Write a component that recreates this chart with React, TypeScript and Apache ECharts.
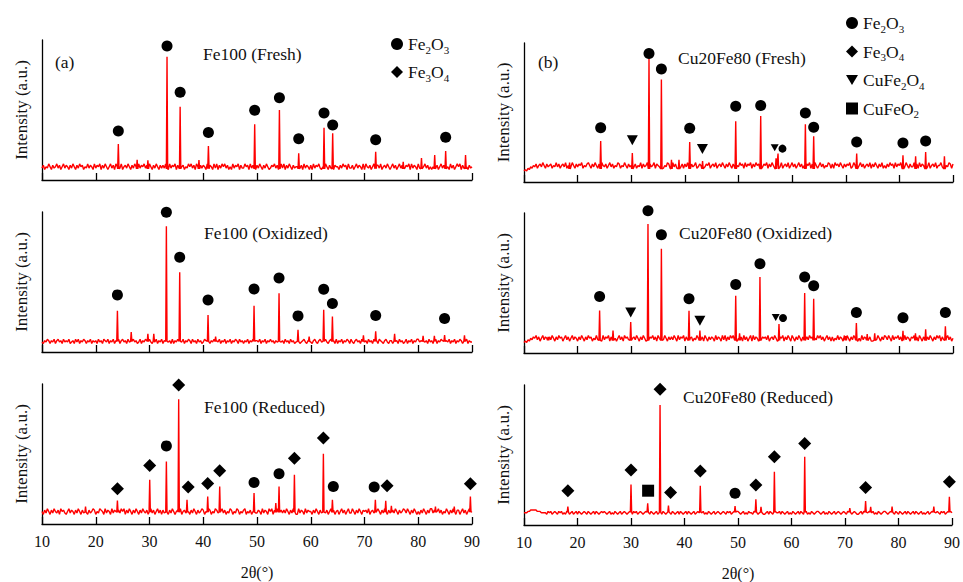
import React, { useEffect, useRef } from 'react';
import * as echarts from 'echarts';

const FONT = 'Liberation Serif';
const TXT = '#111';

// 2θ axis
const THETA_MIN = 10;
const THETA_MAX = 90;
const THETA_STEP = 10;
const NOISE_STEP = 0.25;
const NOISE_UNIT = 1.0;

// ---------- Fe100 (Fresh) ----------
const fe100FreshPeaks = [
  [24.2, 25.7], [27.7, 14.5], [29.7, 14], [33.26, 88], [35.7, 52.4], [39.2, 14.3], [40.96, 24.3],
  [49.57, 39.8], [54.17, 50], [57.76, 19], [62.47, 37.4], [64.08, 33.3], [72.08, 20.2], [77.2, 13],
  [80.6, 15.7], [83.06, 17.9], [85.1, 20.7], [88.8, 17.9],
];
const fe100FreshNoise =
  '2413253142 3524135243 1425314253 4132524315 2435142531 3524153425 1342531425 3152435241 ' +
  '5314253142 4253152435 1425341325 3524153142 4315243152 5142535241 3152435142 2534152431 ' +
  '4253142531 2435241352 5142531423 3524152431 4152435213 2531425143 3142534152 2413524315 ' +
  '1532413524 4251342531 3524135241 2435152431 5241352413 1352413524 4231524135 3514253142 3';
const fe100FreshHematite = [
  [24.2, 35], [33.26, 95.7], [35.7, 62.6], [40.96, 34], [49.57, 49.8], [54.17, 58.8], [57.76, 29.5],
  [62.47, 47.9], [64.08, 39.3], [72.08, 28.8], [85.1, 30.5],
];

// ---------- Fe100 (Oxidized) ----------
const fe100OxPeaks = [
  [24.03, 29.4], [26.6, 14.2], [29.7, 13], [30.8, 13], [33.14, 89.8], [35.62, 56.9], [40.89, 26.5],
  [42.3, 11], [49.45, 33.1], [54.1, 42], [57.63, 15.9], [59.7, 11], [62.41, 30.1], [64.03, 25.3],
  [69.8, 12], [72.08, 14.7], [75.6, 13], [80.9, 11.5], [83, 11.5], [84.9, 12.1], [88.6, 12],
];
const fe100OxNoise =
  '1021320213 0231203121 3012031302 1320213021 2031203213 0213021302 3120312031 2013021320 ' +
  '3102130213 0213120302 1302130213 2031203120 1321302130 2130213021 3021320312 0213021302 ' +
  '2130213021 3120213012 0312031201 2301231023 1023102310 2310231203 0213021320 3102312031 ' +
  '1203120312 0321023102 2031203120 1302130213 3120312031 2013021320 0213021302 1320213021 1';
const fe100OxHematite = [
  [24.03, 40.8], [33.14, 99.8], [35.62, 67.6], [40.89, 37.2], [49.45, 45], [54.1, 52.8], [57.63, 25.8],
  [62.41, 44.8], [64.03, 34.6], [72.08, 26], [84.9, 23.9],
];

// ---------- Fe100 (Reduced) ----------
const fe100RedPeaks = [
  [18.1, 12.4], [24.03, 16.8], [30.04, 31.6], [33.14, 44.6], [35.43, 89.1], [36.98, 17.3], [40.83, 19.7],
  [43.06, 26.8], [49.45, 22.1], [53.5, 15], [54.1, 26.8], [56.96, 35.1], [62.35, 50.1], [64.03, 17.3],
  [72.02, 17.3], [73.95, 16.6], [75, 13], [83.2, 12.5], [86.7, 12.5], [89.7, 19.7],
];
const fe100RedNoise =
  '2031420314 2130423102 4132031420 3142031243 0214320413 2041320314 2403142031 4203142130 ' +
  '2413024130 3142031420 2314023142 0314203124 3021430214 3102413021 4302143021 3402130241 ' +
  '1320413204 2403142031 3142031420 0413204132 2031420314 4130241302 3024130241 1420314203 ' +
  '2314023142 4203142031 0314203124 3142031420 2031420314 4130241302 1420314203 3024130241 2';
const fe100RedMagnetite = [
  [24.03, 25.2], [30.04, 41.8], [35.43, 99.3], [37.2, 26.4], [40.83, 28.9], [43.06, 38], [56.96, 47],
  [62.35, 61.5], [74.2, 27.3], [89.7, 28.7],
];
const fe100RedHematite = [[33.14, 55.8], [49.45, 29.7], [54.1, 35.9], [64.2, 26.8], [71.8, 26.4]];

// ---------- Cu20Fe80 (Fresh) ----------
const cuFreshPeaks = [
  [18.5, 14], [24.3, 29.5], [30.2, 20.9], [33.31, 88.8], [35.62, 73.7], [37.5, 16], [38.9, 16], [40.9, 28.8],
  [43.3, 15], [49.48, 43.7], [54.14, 47.5], [57.0, 17], [57.37, 20.4], [62.47, 41.5], [64.02, 32.9],
  [72.04, 20.4], [80.67, 19.2], [83.03, 18.5], [84.9, 21.6], [88.4, 18.5],
];
const cuFreshNoise =
  '0102132435 2453642534 5243635245 3624536425 3546243564 2536425364 3524635243 6524364253 ' +
  '4635243625 3462534625 4365243652 4635246352 5364253462 3546235462 4536245364 2536425364 ' +
  '3645263546 2536452635 4625364253 5362453624 6352463524 3546253642 4635243652 5264536425 ' +
  '3546236452 4635245362 5364253624 2536452635 4625364253 3645263546 5362453624 4635243652 5';
const cuFreshHematite = [
  [24.3, 39.1], [33.31, 92.4], [35.62, 81.3], [40.9, 38.6], [49.48, 54.5], [54.14, 55], [62.47, 49.6],
  [64.02, 39.4], [72.04, 28.8], [80.67, 28.1], [84.9, 29.5],
];
const cuFreshHematiteMinor = [[58.2, 24]];
const cuFreshFerrite = [[30.2, 30], [43.27, 23.7]];
const cuFreshFerriteMinor = [[56.75, 24.7]];

// ---------- Cu20Fe80 (Oxidized) ----------
const cuOxPeaks = [
  [14.5, 11.5], [24.1, 30.4], [26.6, 16], [29.9, 22.1], [33.12, 92.1], [35.62, 74.5], [40.77, 30.2],
  [42.8, 16], [49.48, 40.9], [50.2, 14], [54.0, 54.3], [57.55, 20.7], [62.34, 42.9], [64.02, 38.8],
  [70, 12], [71.98, 21.4], [74.0, 13.5], [75.4, 14], [80.67, 15.9], [83, 14], [84.9, 17], [88.58, 19],
];
const cuOxNoise =
  '0102132435 2413524314 2531425341 3524135243 1425314253 4132524315 2435142531 3524153425 ' +
  '1342531425 3152435241 5314253142 4253152435 1425341325 3524153142 4315243152 5142535241 ' +
  '3241524135 1524315243 4251342531 2435142531 5314253142 1425341325 3524135241 4132524315 ' +
  '2531425341 3152435241 1342531425 4253152435 2413524314 3524153142 1425314253 5142535241 3';
const cuOxHematite = [
  [24.1, 40.4], [33.12, 101.6], [35.62, 84.5], [40.77, 38.8], [49.48, 49], [54.0, 63.8], [62.34, 54.3],
  [64.02, 48.1], [71.98, 29], [80.67, 25.2], [88.58, 29],
];
const cuOxHematiteMinor = [[58.3, 25]];
const cuOxFerrite = [[29.9, 29], [42.8, 23]];
const cuOxFerriteMinor = [[56.94, 25.4]];

// ---------- Cu20Fe80 (Reduced) ----------
const cuRedPeaks = [
  [18.2, 13.1], [30.0, 29], [33.12, 15.5], [35.43, 85.7], [37.0, 13.8], [42.95, 28.1], [49.45, 13.6],
  [53.34, 18.3], [54.3, 13], [56.8, 38.1], [62.47, 48.8], [70.9, 12], [73.85, 17.1], [74.8, 13],
  [78.8, 13.1], [86.6, 13.1], [89.51, 20.2],
];
const cuRedNoise =
  '1112233333 2221111021 2012102120 1021012012 0210121021 0120210121 2101201021 0120121012 ' +
  '1021201210 1201021012 0120210121 0210120210 1202101201 2101201021 0120121012 1021201212 ' +
  '2101201021 1021201210 0120210121 1202101201 0210120210 1201021012 2101201021 0120121012 ' +
  '1021201210 0120210121 1201021012 2101201021 0210120210 1202101201 0120121012 1021201212 1';
const cuRedMagnetite = [
  [18.2, 24.5], [30.0, 39.3], [35.43, 96.9], [37.4, 23.3], [42.95, 38.6], [53.34, 28.6], [56.8, 48.8],
  [62.47, 58.3], [73.85, 26.7], [89.51, 30.9],
];
const cuRedDelafossite = [[33.2, 24.5]];
const cuRedHematite = [[49.45, 22.6]];

// background levels (intensity units)
const baseLevels = [6.5, 6.1, 6.9, 7.9, 7.5, 7.7];

const panelTitles = [
  'Fe100 (Fresh)', 'Fe100 (Oxidized)', 'Fe100 (Reduced)',
  'Cu20Fe80 (Fresh)', 'Cu20Fe80 (Oxidized)', 'Cu20Fe80 (Reduced)',
];
const phaseNames = ['Fe2O3', 'Fe3O4', 'CuFe2O4', 'CuFeO2'];

function buildTrace(peaks: number[][], noise: string, base: number) {
  const digits = noise.replace(/\s/g, '');
  const pts: number[][] = [];
  for (let i = 0; i < digits.length; i++) {
    const x = THETA_MIN + i * NOISE_STEP;
    if (x > THETA_MAX) break;
    if (peaks.some((p) => Math.abs(p[0] - x) < 0.16)) continue;
    pts.push([x, base + Number(digits[i]) * NOISE_UNIT]);
  }
  peaks.forEach(([x, h]) => {
    pts.push([x - 0.12, base + 1.5], [x, h], [x + 0.12, base + 1.5]);
  });
  pts.sort((a, b) => a[0] - b[0]);
  return pts;
}

const richName = (name: string) =>
  ('{n|' + name.replace(/(\d)/g, '}{s|$1}{n|') + '}').replace(/\{n\|\}/g, '');

const SYMBOLS: Record<string, any> = {
  Fe2O3: { symbol: 'circle', size: 11, rotate: 0 },
  Fe3O4: { symbol: 'diamond', size: 13, rotate: 0 },
  CuFe2O4: { symbol: 'triangle', size: [11, 10], rotate: 180 },
  CuFeO2: { symbol: 'rect', size: 12, rotate: 0 },
};

export default function App() {
  const ref = useRef<HTMLDivElement>(null);
  useEffect(() => {
    if (!ref.current) return;
    const chart = echarts.init(ref.current, undefined, { renderer: 'svg' });

    const grids = [
      { left: 42, top: 40, width: 430, height: 140 },
      { left: 42, top: 212, width: 430, height: 140 },
      { left: 42, top: 384, width: 430, height: 140 },
      { left: 524, top: 43, width: 429, height: 139 },
      { left: 524, top: 213, width: 429, height: 140 },
      { left: 524, top: 385, width: 429, height: 140 },
    ];
    const titlePos = [
      [203, 54], [204, 233], [204, 407], [678, 58], [679, 233], [683, 397],
    ];
    const traces = [
      buildTrace(fe100FreshPeaks, fe100FreshNoise, baseLevels[0]),
      buildTrace(fe100OxPeaks, fe100OxNoise, baseLevels[1]),
      buildTrace(fe100RedPeaks, fe100RedNoise, baseLevels[2]),
      buildTrace(cuFreshPeaks, cuFreshNoise, baseLevels[3]),
      buildTrace(cuOxPeaks, cuOxNoise, baseLevels[4]),
      buildTrace(cuRedPeaks, cuRedNoise, baseLevels[5]),
    ];
    const markerSets: [number, string, number[][], boolean][] = [
      [0, 'Fe2O3', fe100FreshHematite, false],
      [1, 'Fe2O3', fe100OxHematite, false],
      [2, 'Fe3O4', fe100RedMagnetite, false],
      [2, 'Fe2O3', fe100RedHematite, false],
      [3, 'Fe2O3', cuFreshHematite, false],
      [3, 'Fe2O3', cuFreshHematiteMinor, true],
      [3, 'CuFe2O4', cuFreshFerrite, false],
      [3, 'CuFe2O4', cuFreshFerriteMinor, true],
      [4, 'Fe2O3', cuOxHematite, false],
      [4, 'Fe2O3', cuOxHematiteMinor, true],
      [4, 'CuFe2O4', cuOxFerrite, false],
      [4, 'CuFe2O4', cuOxFerriteMinor, true],
      [5, 'Fe3O4', cuRedMagnetite, false],
      [5, 'CuFeO2', cuRedDelafossite, false],
      [5, 'Fe2O3', cuRedHematite, false],
    ];

    const axisLine = { lineStyle: { color: '#000', width: 1.3 } };
    const textBase = { fontFamily: FONT, color: TXT };

    const series: any[] = [];
    traces.forEach((data, i) => {
      series.push({
        type: 'line', xAxisIndex: i, yAxisIndex: i, data, symbol: 'none', showSymbol: false,
        lineStyle: { color: '#ff0000', width: 1.4 }, silent: true, z: 2,
      });
    });
    markerSets.forEach(([i, name, data, minor]) => {
      const s = SYMBOLS[name];
      let size = s.size;
      if (minor) size = name === 'CuFe2O4' ? [8, 7] : 8;
      series.push({
        type: 'scatter', name, xAxisIndex: i, yAxisIndex: i, data, clip: false,
        symbol: s.symbol, symbolSize: size, symbolRotate: s.rotate,
        itemStyle: { color: '#000', opacity: 1 }, z: 3, silent: true,
      });
    });

    const rich = {
      n: { fontFamily: FONT, fontSize: 17.5, lineHeight: 22, color: TXT },
      s: { fontFamily: FONT, fontSize: 11, lineHeight: 11, color: TXT, verticalAlign: 'bottom' },
    };
    const legendIcons: Record<string, string> = {
      Fe2O3: 'circle',
      Fe3O4: 'diamond',
      CuFe2O4: 'path://M0,0L12,0L6,10Z',
      CuFeO2: 'rect',
    };
    const mkLegend = (names: string[], left: number, top: number, gap: number) => ({
      orient: 'vertical', left, top, itemGap: gap, itemWidth: 12, itemHeight: 12,
      selectedMode: false, padding: 0,
      data: names.map((n) => ({ name: n, icon: legendIcons[n] })),
      formatter: (n: string) => richName(n),
      textStyle: { ...textBase, fontSize: 17.5, rich },
    });

    const titleStyle = { ...textBase, fontSize: 17.5, fontWeight: 'normal', lineHeight: 20 };
    chart.setOption({
      animation: false,
      backgroundColor: '#fff',
      grid: grids,
      title: [
        ...panelTitles.map((t, i) => ({
          text: t, left: titlePos[i][0], top: titlePos[i][1] - 10, padding: 0, textStyle: titleStyle,
        })),
        { text: '(a)', left: 55, top: 52, padding: 0, textStyle: titleStyle },
        { text: '(b)', left: 538, top: 52, padding: 0, textStyle: titleStyle },
      ],
      legend: [
        mkLegend(phaseNames.slice(0, 2), 391, 35, 8),
        mkLegend(phaseNames, 846, 14, 8.5),
      ],
      xAxis: grids.map((_, i) => {
        const bottom = i === 2 || i === 5;
        return {
          gridIndex: i, type: 'value', min: THETA_MIN, max: THETA_MAX, interval: THETA_STEP,
          axisLine, axisTick: { show: true, inside: true, length: 7, lineStyle: { color: '#000', width: 1.3 } },
          axisLabel: { show: bottom, ...textBase, fontSize: 16, margin: 9 },
          splitLine: { show: false },
          name: bottom ? '2θ(°)' : '', nameLocation: 'middle', nameGap: 40,
          nameTextStyle: { ...textBase, fontSize: 16 },
        };
      }),
      yAxis: grids.map((_, i) => ({
        gridIndex: i, type: 'value', min: 0, max: 100,
        axisLine: { show: true, ...axisLine }, axisTick: { show: false }, axisLabel: { show: false },
        splitLine: { show: false },
        name: 'Intensity (a.u.)', nameLocation: 'middle', nameRotate: 90, nameGap: 12,
        nameTextStyle: { ...textBase, fontSize: 17 },
      })),
      series,
    });
    return () => chart.dispose();
  }, []);

  return (
    <div
      ref={ref}
      style={{ position: 'absolute', left: 0, top: 0, width: 963, height: 582, background: '#fff' }}
    />
  );
}
